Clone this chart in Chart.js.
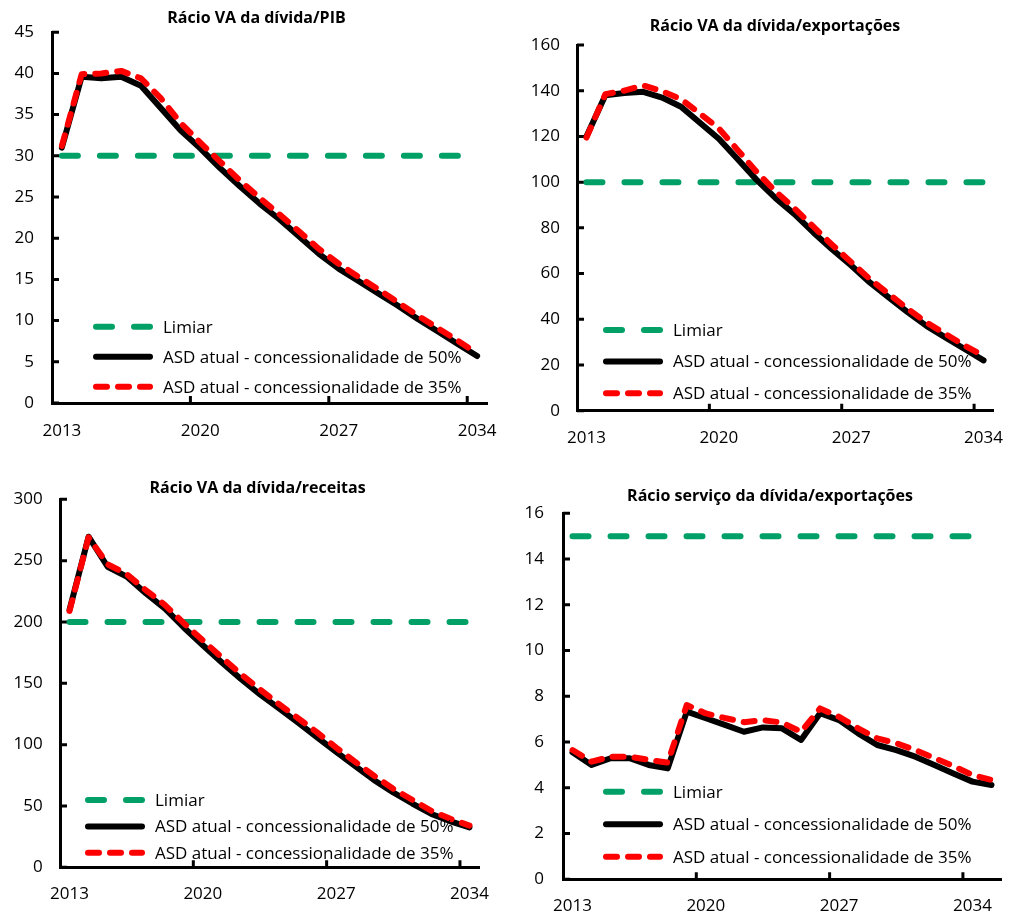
<!DOCTYPE html>
<html>
<head>
<meta charset="utf-8">
<script src="https://cdn.jsdelivr.net/npm/chart.js@4.4.1/dist/chart.umd.min.js"></script>
<style>
  body { margin: 0; width: 1011px; height: 917px; overflow: hidden; background: #fff; position: relative; }
  .panel { position: absolute; }
</style>
</head>
<body>
<div class="panel" style="left:0px;top:0px;width:513px;height:455px"><canvas id="chartPib"></canvas></div>
<div class="panel" style="left:520px;top:0px;width:510px;height:460px"><canvas id="chartExp"></canvas></div>
<div class="panel" style="left:0px;top:455px;width:515px;height:462px"><canvas id="chartRec"></canvas></div>
<div class="panel" style="left:520px;top:455px;width:500px;height:462px"><canvas id="chartSvc"></canvas></div>
<script>
// Categories
const years22 = ['2013', '2014', '2015', '2016', '2017', '2018', '2019', '2020', '2021', '2022', '2023',
                 '2024', '2025', '2026', '2027', '2028', '2029', '2030', '2031', '2032', '2033', '2034'];
const years23 = ['2013', '2014', '2015', '2016', '2017', '2018', '2019', '2020', '2021', '2022', '2023',
                 '2024', '2025', '2026', '2027', '2028', '2029', '2030', '2031', '2032', '2033', '2034', '2035'];

const seriesNames = ['Limiar', 'ASD atual - concessionalidade de 50%', 'ASD atual - concessionalidade de 35%'];

// Rácio VA da dívida/PIB
const pibLimiar = [30, 30, 30, 30, 30, 30, 30, 30, 30, 30, 30, 30, 30, 30, 30, 30, 30, 30, 30, 30, 30, 30];
const pib50 = [31.0, 39.6, 39.4, 39.6, 38.5, 35.8, 33.1, 30.9, 28.5, 26.3, 24.2, 22.3, 20.2, 18.1, 16.3, 14.8, 13.3, 11.8, 10.2, 8.7, 7.2, 5.7];
const pib35 = [31.2, 39.9, 40.0, 40.3, 39.4, 37.0, 34.0, 31.6, 29.3, 27.0, 24.9, 22.9, 20.8, 18.7, 16.9, 15.3, 13.8, 12.2, 10.6, 9.1, 7.6, 6.0];

// Rácio VA da dívida/exportações
const expLimiar = [100, 100, 100, 100, 100, 100, 100, 100, 100, 100, 100, 100, 100, 100, 100, 100, 100, 100, 100, 100, 100, 100];
const exp50 = [120, 138, 139, 139.5, 137, 133, 126, 119, 110, 101, 93, 86, 78, 70.5, 63.5, 56, 49.5, 43, 37, 32, 27, 22];
const exp35 = [119.5, 138.5, 140, 142.3, 139.8, 136.3, 130, 123.5, 114, 104.5, 96, 88.5, 80.5, 72.5, 65, 57.5, 51, 44.5, 38.5, 33.5, 28.5, 24];

// Rácio VA da dívida/receitas
const recLimiar = [200, 200, 200, 200, 200, 200, 200, 200, 200, 200, 200, 200, 200, 200, 200, 200, 200, 200, 200, 200, 200, 200];
const rec50 = [210, 269.5, 245, 237, 223.5, 211, 195.5, 181, 167, 153.5, 141, 129.5, 118, 106, 94, 82.5, 71, 61, 52, 43.5, 37.5, 32.5];
const rec35 = [209, 269, 247, 239, 226, 214, 199, 185, 171, 157.5, 145, 133, 121.5, 110, 97.5, 86, 74.5, 64, 55, 46, 39.5, 34];

// Rácio serviço da dívida/exportações
const svcLimiar = [15, 15, 15, 15, 15, 15, 15, 15, 15, 15, 15, 15, 15, 15, 15, 15, 15, 15, 15, 15, 15, 15];
const svc50 = [5.55, 5.0, 5.29, 5.29, 5.0, 4.85, 7.33, 7.04, 6.75, 6.45, 6.64, 6.6, 6.09, 7.26, 6.96, 6.38, 5.87, 5.65, 5.36, 5.0, 4.63, 4.27, 4.12];
const svc35 = [5.65, 5.14, 5.36, 5.36, 5.22, 5.1, 7.62, 7.25, 7.05, 6.87, 6.96, 6.85, 6.45, 7.47, 7.1, 6.6, 6.16, 5.95, 5.65, 5.3, 4.95, 4.56, 4.34];

Chart.defaults.font.family = "'Open Sans', sans-serif";
Chart.defaults.color = '#000';

// Excel-like inner tick marks on both axes
const innerTicks = {
    id: 'innerTicks',
    beforeDatasetsDraw(chart, args, opts) {
        const {ctx, chartArea, scales: {x, y}} = chart;
        ctx.save();
        ctx.strokeStyle = '#000';
        ctx.lineWidth = 3;
        ctx.beginPath();
        y.ticks.forEach((t, i) => {
            const py = y.getPixelForTick(i);
            ctx.moveTo(chartArea.left, py);
            ctx.lineTo(chartArea.left + opts.len, py);
        });
        for (let k = opts.every; k < x.ticks.length; k += opts.every) {
            const px = x.getPixelForValue(k - 0.5);
            ctx.moveTo(px, chartArea.bottom);
            ctx.lineTo(px, chartArea.bottom - opts.len);
        }
        ctx.stroke();
        ctx.restore();
    }
};

// Legend drawn inside the plot area, bottom left
const insideLegend = {
    id: 'insideLegend',
    afterDatasetsDraw(chart, args, opts) {
        const {ctx, chartArea} = chart;
        ctx.save();
        ctx.font = "17px 'Open Sans', sans-serif";
        ctx.textBaseline = 'middle';
        ctx.fillStyle = '#000';
        chart.data.datasets.forEach((ds, i) => {
            const x0 = chartArea.left + opts.dx;
            const yy = chartArea.bottom + opts.dy + i * opts.gap;
            ctx.strokeStyle = ds.borderColor;
            ctx.lineWidth = ds.borderWidth;
            ctx.lineCap = 'round';
            ctx.setLineDash(ds.borderDash || []);
            ctx.beginPath();
            ctx.moveTo(x0 + 3, yy);
            ctx.lineTo(x0 + 57, yy);
            ctx.stroke();
            ctx.setLineDash([]);
            ctx.fillText(ds.label, x0 + 70, yy + 1);
        });
        ctx.restore();
    }
};

function makeChart(id, p) {
    const datasets = [
        {label: seriesNames[0], data: p.limiar, borderColor: '#00A066', borderWidth: 6, borderDash: [16, 22], order: 2},
        {label: seriesNames[1], data: p.s50, borderColor: '#000000', borderWidth: 6, order: 1},
        {label: seriesNames[2], data: p.s35, borderColor: '#FF0000', borderWidth: 6, borderDash: [11, 11], order: 0}
    ];
    datasets.forEach(ds => {
        ds.pointRadius = 0;
        ds.tension = 0;
        ds.borderCapStyle = 'round';
        ds.borderJoinStyle = 'round';
        ds.fill = false;
    });

    return new Chart(document.getElementById(id), {
        type: 'line',
        data: {labels: p.labels, datasets: datasets},
        options: {
            responsive: true,
            maintainAspectRatio: false,
            animation: false,
            events: [],
            devicePixelRatio: 1,
            layout: {padding: 0},
            plugins: {
                legend: {display: false},
                tooltip: {enabled: false},
                title: {
                    display: true,
                    text: p.title,
                    color: '#000',
                    font: {size: 16, weight: 'bold'},
                    padding: {top: p.titleTop, bottom: p.titleBottom}
                },
                innerTicks: {len: 7, every: 7},
                insideLegend: p.legend
            },
            scales: {
                x: {
                    type: 'category',
                    offset: true,
                    grid: {display: true, drawOnChartArea: false, tickLength: p.xTick, tickColor: 'transparent'},
                    border: {display: true, color: '#000', width: 3},
                    ticks: {
                        autoSkip: false,
                        maxRotation: 0,
                        padding: 0,
                        font: {size: 17},
                        callback: function (val, i) { return i % 7 === 0 ? this.getLabelForValue(val) : ''; }
                    },
                    afterFit: s => { s.height = p.xHeight; }
                },
                y: {
                    min: 0,
                    max: p.max,
                    grid: {display: true, drawOnChartArea: false, tickLength: p.yTick, tickColor: 'transparent'},
                    border: {display: true, color: '#000', width: 3},
                    ticks: {stepSize: p.step, padding: 0, font: {size: 17}},
                    afterFit: s => { s.width = p.yWidth; }
                },
                // empty right-hand axis: only reserves room so the title centres like Excel's
                yR: {
                    axis: 'y',
                    position: 'right',
                    grid: {display: false},
                    border: {display: false},
                    ticks: {display: false},
                    afterFit: s => { s.width = p.rightWidth; }
                }
            }
        },
        plugins: [innerTicks, insideLegend]
    });
}

makeChart('chartPib', {
    title: 'Rácio VA da dívida/PIB', labels: years22,
    limiar: pibLimiar, s50: pib50, s35: pib35, max: 45, step: 5,
    titleTop: 9, titleBottom: 4, xHeight: 52, xTick: 18, yTick: 18, yWidth: 52, rightWidth: 26,
    legend: {dx: 41, dy: -76.3, gap: 30}
});

makeChart('chartExp', {
    title: 'Rácio VA da dívida/exportações', labels: years22,
    limiar: expLimiar, s50: exp50, s35: exp35, max: 160, step: 20,
    titleTop: 17, titleBottom: 8.8, xHeight: 49.3, xTick: 17, yTick: 17, yWidth: 57, rightWidth: 37,
    legend: {dx: 26, dy: -80.7, gap: 31.6}
});

makeChart('chartRec', {
    title: 'Rácio VA da dívida/receitas', labels: years22,
    limiar: recLimiar, s50: rec50, s35: rec35, max: 300, step: 50,
    titleTop: 23.7, titleBottom: 1.4, xHeight: 49.7, xTick: 16.5, yTick: 17.3, yWidth: 60, rightWidth: 36,
    legend: {dx: 25, dy: -67.3, gap: 26.4}
});

makeChart('chartSvc', {
    title: 'Rácio serviço da dívida/exportações', labels: years23,
    limiar: svcLimiar, s50: svc50, s35: svc35, max: 16, step: 2,
    titleTop: 31.4, titleBottom: 7.7, xHeight: 37.7, xTick: 16.5, yTick: 19, yWidth: 43, rightWidth: 19,
    legend: {dx: 40, dy: -87.6, gap: 32.5}
});
</script>
</body>
</html>
